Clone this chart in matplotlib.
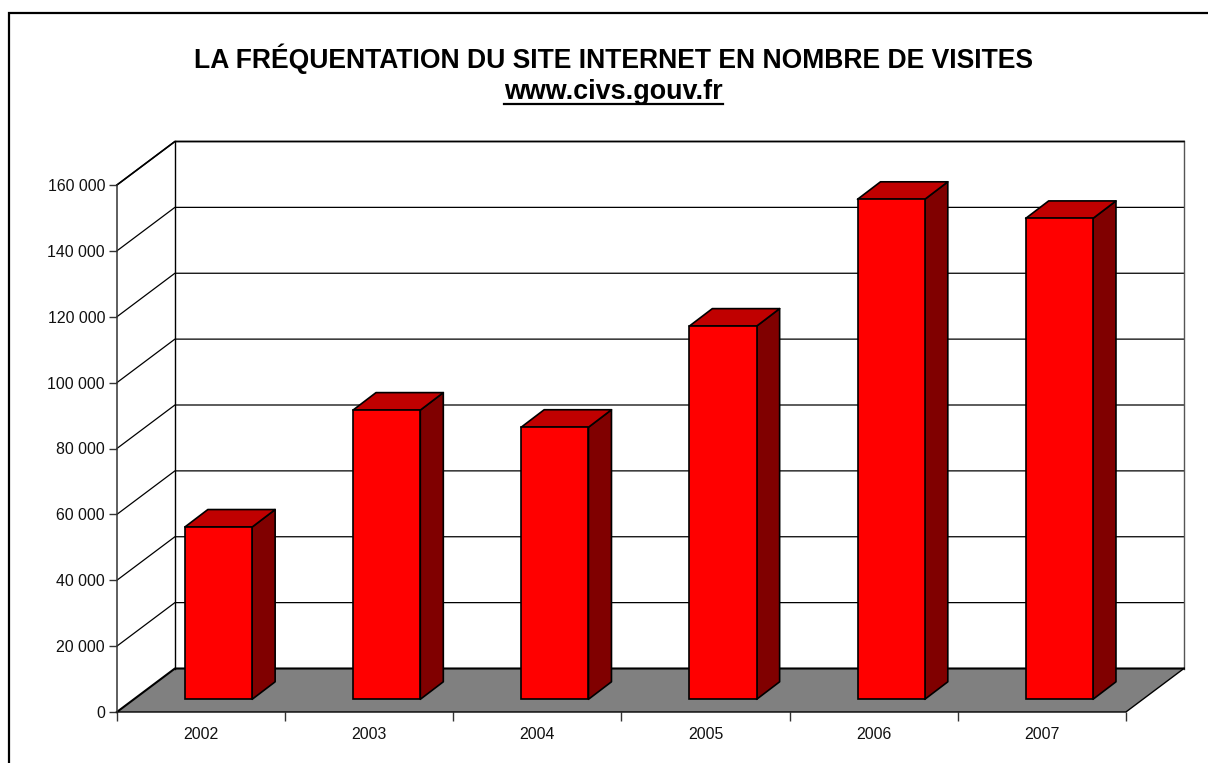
#!/usr/bin/env python
# Fake 3D column chart, visits per year

import matplotlib
matplotlib.use("Agg")
import matplotlib.pyplot as plt
from matplotlib.patches import Polygon, Rectangle

W, H = 1208, 763

years = ["2002", "2003", "2004", "2005", "2006", "2007"]
visits = [52300, 87800, 82600, 113300, 151800, 146000]
y_ticks = [0, 20000, 40000, 60000, 80000, 100000, 120000, 140000, 160000]
y_labels = ["0", "20 000", "40 000", "60 000", "80 000", "100 000",
            "120 000", "140 000", "160 000"]

plt.rcParams["font.family"] = ["Liberation Sans", "DejaVu Sans"]

fig = plt.figure(figsize=(W / 100, H / 100), dpi=100)

# outer frame, runs off the right and bottom edges
fig.add_artist(Rectangle((8.8 / W, -0.02), W, 1.02 - 12.8 / H, transform=fig.transFigure,
                         fc="none", ec="black", lw=1.6))

# axes sits on the front plane of the 3D box
left, right, top, bottom = 116.9, 1125.9, 185, 712
ax = fig.add_axes([left / W, 1 - bottom / H, (right - left) / W, (bottom - top) / H])
ax.set_xlim(0, len(years))
ax.set_ylim(0, 160000)
ax.patch.set_visible(False)
for s in ["top", "right", "bottom"]:
    ax.spines[s].set_visible(False)
ax.spines["left"].set_color("#333333")
ax.spines["left"].set_linewidth(1.1)

ux = len(years) / (right - left)  # data units per pixel
uy = 160000 / (bottom - top)
dx, dy = 58 * ux, 43.5 * uy  # box depth
n = len(years)

# floor
ax.add_patch(Polygon([(0, 0), (n, 0), (n + dx, dy), (dx, dy)], fc="#808080", ec="none",
                     clip_on=False, zorder=1))
ax.plot([0, dx, n + dx], [0, dy, dy], color="black", lw=1.5, clip_on=False, zorder=2)
ax.plot([0, n, n + dx], [0, 0, dy], color="black", lw=1.0, clip_on=False, zorder=2)

# walls and grid
for v in y_ticks[1:]:
    ax.plot([0, dx, n + dx], [v, v + dy, v + dy], color="black", lw=0.9, clip_on=False, zorder=1)
ax.plot([0, dx, n + dx], [160000, 160000 + dy, 160000 + dy], color="black", lw=1.2,
        clip_on=False, zorder=2)
ax.plot([dx, dx], [dy, 160000 + dy], color="black", lw=1.0, clip_on=False, zorder=1)
ax.plot([n + dx, n + dx], [dy, 160000 + dy], color="#555555", lw=1.0, clip_on=False, zorder=1)

# bars
bar_w = 67.3 * ux
off_x, off_y = 17.5 * ux, 12.7 * uy
bx, by = 23 * ux, 17.5 * uy
for i, v in enumerate(visits):
    x0 = i + 0.5 + off_x - bar_w / 2
    x1 = x0 + bar_w
    y0 = off_y
    y1 = off_y + v
    ax.add_patch(Polygon([(x1, y0), (x1 + bx, y0 + by), (x1 + bx, y1 + by), (x1, y1)],
                         fc="#800000", ec="black", lw=1.2, clip_on=False, zorder=3,
                         joinstyle="round"))
    ax.add_patch(Polygon([(x0, y1), (x1, y1), (x1 + bx, y1 + by), (x0 + bx, y1 + by)],
                         fc="#C00000", ec="black", lw=1.2, clip_on=False, zorder=3,
                         joinstyle="round"))
    ax.add_patch(Rectangle((x0, y0), bar_w, v, fc="#FF0000", ec="black", lw=1.2,
                           clip_on=False, zorder=4))

ax.set_yticks(y_ticks)
ax.set_yticklabels(y_labels, fontsize=11.4, color="#111111")
ax.tick_params(axis="y", length=6, width=1.0, color="#333333", pad=2.5)

# x ticks on the category edges, labels in the middle
ax.set_xticks(range(n + 1))
ax.set_xticklabels([])
ax.set_xticks([i + 0.5 for i in range(n)], minor=True)
ax.set_xticklabels(years, minor=True, fontsize=11.4, color="#111111")
ax.tick_params(axis="x", which="major", length=6.5, width=1.0, color="#333333")
ax.tick_params(axis="x", which="minor", length=0, pad=10.5)

fig.text(613.5 / W, 1 - 59 / H, "LA FRÉQUENTATION DU SITE INTERNET EN NOMBRE DE VISITES",
         ha="center", va="center", fontsize=19.1, fontweight="bold", color="black")
fig.text(613.5 / W, 1 - 92 / H, "www.civs.gouv.fr", ha="center", va="center",
         fontsize=19.4, fontweight="bold", color="black")
# underline of the url
fig.add_artist(plt.Line2D([504 / W, 723 / W], [1 - 104 / H, 1 - 104 / H], color="black", lw=1.6))

fig.savefig("out.png", dpi=100)
